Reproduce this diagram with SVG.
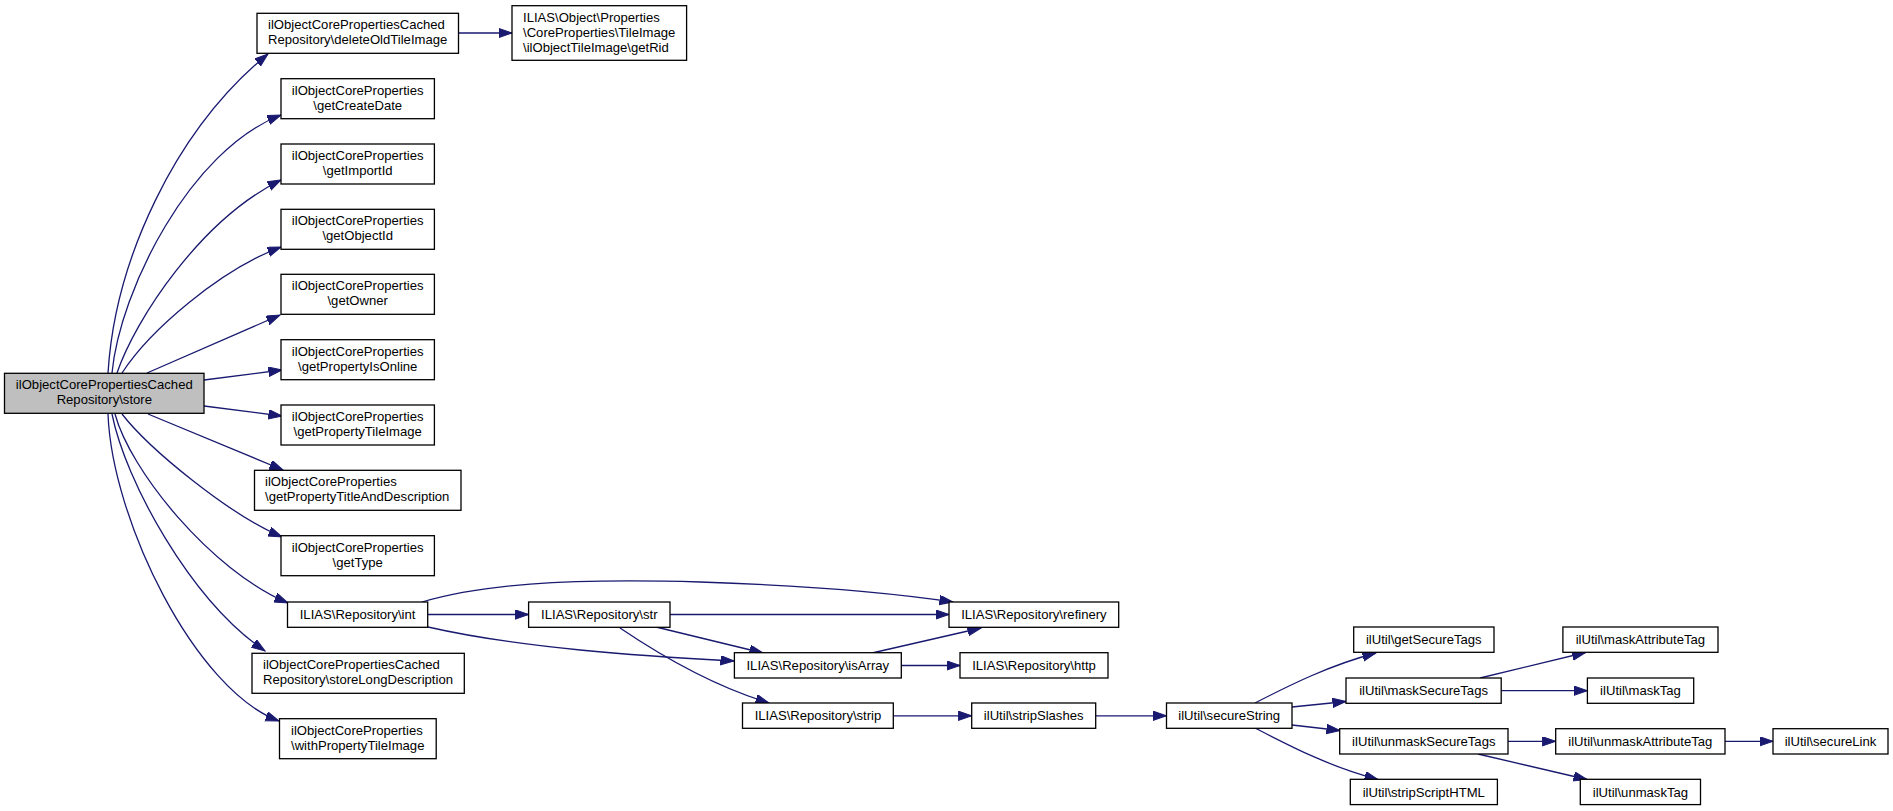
<svg xmlns="http://www.w3.org/2000/svg" width="1893" height="811" viewBox="0 0 1893 811">
<style>
.n rect{fill:#ffffff;stroke:#000000;stroke-width:1.3}
.n.root rect{fill:#bfbfbf}
.n text{font-family:"Liberation Sans",Arial,sans-serif;font-size:13.1px;fill:#000000}
.c{text-anchor:middle}
.e path{fill:none;stroke:#191970;stroke-width:1.3;marker-end:url(#arr)}
</style>
<defs>
<marker id="arr" markerWidth="15" markerHeight="11" refX="13.5" refY="4.7" orient="auto" markerUnits="userSpaceOnUse">
<path d="M0,0 L13.5,4.7 L0,9.4 z" fill="#191970" stroke="#191970" stroke-width="1"/>
</marker>
</defs>
<rect width="1893" height="811" fill="#ffffff"/>
<g id="edges" class="e">
<path d="M108,373 C115,260 175,130 268,54"/>
<path d="M112,373 C120,290 190,150 281,115"/>
<path d="M117,373 C135,320 200,220 281,180"/>
<path d="M122,373 C150,330 220,270 281,247"/>
<path d="M147,373 L280,315"/>
<path d="M204,380 L282,370"/>
<path d="M204,406 L282,416"/>
<path d="M148,414 L283,470"/>
<path d="M122,414 C150,450 230,515 282,537"/>
<path d="M115,414 C130,470 210,570 288,603"/>
<path d="M112,414 C125,480 190,600 265,651"/>
<path d="M108,414 C112,520 195,690 279,721"/>
<path d="M458.5,33 L512,33"/>
<path d="M422,602 C480,585 560,578 700,582 C820,586 900,594 953,602"/>
<path d="M428,614.5 L528.6,614.5"/>
<path d="M428,627 C520,648 640,656 734,661"/>
<path d="M670,614.5 L949,614.5"/>
<path d="M656,627 L763,653"/>
<path d="M620,628 C660,655 710,685 769,703"/>
<path d="M872,653 L981,628"/>
<path d="M901,665.5 L960,665.5"/>
<path d="M893,715.8 L971.7,715.8"/>
<path d="M1096,715.8 L1166.5,715.8"/>
<path d="M1255,703 C1290,685 1330,665 1376,653"/>
<path d="M1292,707 L1346,701.5"/>
<path d="M1292,725 L1340,730.5"/>
<path d="M1255,728 C1290,746 1330,767 1378,779.5"/>
<path d="M1480,678 L1585.5,652.5"/>
<path d="M1501,690.7 L1587.4,690.7"/>
<path d="M1508,741.3 L1555.7,741.3"/>
<path d="M1478,754 L1587,779.5"/>
<path d="M1725,741.3 L1773,741.3"/>
</g>
<g id="store" class="n root"><rect x="4.5" y="373.3" width="199.5" height="40"/><text class="c" x="104.3" y="389.3">ilObjectCorePropertiesCached</text><text class="c" x="104.3" y="404.3">Repository\store</text></g>
<g id="deleteOldTileImage" class="n"><rect x="257" y="13.3" width="201.5" height="40"/><text x="268" y="29.3">ilObjectCorePropertiesCached</text><text x="268" y="44.3">Repository\deleteOldTileImage</text></g>
<g id="getRid" class="n"><rect x="512" y="5.7" width="174.6" height="54.6"/><text x="523" y="21.5">ILIAS\Object\Properties</text><text x="523" y="36.5">\CoreProperties\TileImage</text><text x="523" y="51.5">\ilObjectTileImage\getRid</text></g>
<g id="getCreateDate" class="n"><rect x="281" y="78.7" width="153.4" height="40"/><text class="c" x="357.7" y="94.7">ilObjectCoreProperties</text><text class="c" x="357.7" y="109.7">\getCreateDate</text></g>
<g id="getImportId" class="n"><rect x="281" y="144" width="153.4" height="40"/><text class="c" x="357.7" y="160">ilObjectCoreProperties</text><text class="c" x="357.7" y="175">\getImportId</text></g>
<g id="getObjectId" class="n"><rect x="281" y="209.3" width="153.4" height="40"/><text class="c" x="357.7" y="225.3">ilObjectCoreProperties</text><text class="c" x="357.7" y="240.3">\getObjectId</text></g>
<g id="getOwner" class="n"><rect x="281" y="274.3" width="153.4" height="40"/><text class="c" x="357.7" y="290.3">ilObjectCoreProperties</text><text class="c" x="357.7" y="305.3">\getOwner</text></g>
<g id="getPropertyIsOnline" class="n"><rect x="281" y="339.7" width="153.4" height="40"/><text class="c" x="357.7" y="355.7">ilObjectCoreProperties</text><text class="c" x="357.7" y="370.7">\getPropertyIsOnline</text></g>
<g id="getPropertyTileImage" class="n"><rect x="281" y="405" width="153.4" height="40"/><text class="c" x="357.7" y="421">ilObjectCoreProperties</text><text class="c" x="357.7" y="436">\getPropertyTileImage</text></g>
<g id="getPropertyTitleAndDescription" class="n"><rect x="254.5" y="470.3" width="206.5" height="40"/><text x="265" y="486.3">ilObjectCoreProperties</text><text x="265" y="501.3">\getPropertyTitleAndDescription</text></g>
<g id="getType" class="n"><rect x="281" y="535.7" width="153.4" height="40"/><text class="c" x="357.7" y="551.7">ilObjectCoreProperties</text><text class="c" x="357.7" y="566.7">\getType</text></g>
<g id="int" class="n"><rect x="287.5" y="602" width="140.2" height="25.3"/><text class="c" x="357.6" y="619.3">ILIAS\Repository\int</text></g>
<g id="storeLongDescription" class="n"><rect x="252" y="653.3" width="212.3" height="40"/><text x="263" y="669.3">ilObjectCorePropertiesCached</text><text x="263" y="684.3">Repository\storeLongDescription</text></g>
<g id="withPropertyTileImage" class="n"><rect x="279.5" y="718.7" width="156.7" height="40"/><text x="291" y="734.7">ilObjectCoreProperties</text><text x="291" y="749.7">\withPropertyTileImage</text></g>
<g id="str" class="n"><rect x="528.6" y="602" width="141.4" height="25.3"/><text class="c" x="599.3" y="619.3">ILIAS\Repository\str</text></g>
<g id="refinery" class="n"><rect x="949" y="602" width="169.7" height="25.3"/><text class="c" x="1033.9" y="619.3">ILIAS\Repository\refinery</text></g>
<g id="isArray" class="n"><rect x="734.4" y="652.7" width="166.9" height="25.3"/><text class="c" x="817.8" y="670">ILIAS\Repository\isArray</text></g>
<g id="http" class="n"><rect x="960" y="652.7" width="148" height="25.3"/><text class="c" x="1034" y="670">ILIAS\Repository\http</text></g>
<g id="strip" class="n"><rect x="742.5" y="703" width="150.8" height="25.3"/><text class="c" x="818" y="720.3">ILIAS\Repository\strip</text></g>
<g id="stripSlashes" class="n"><rect x="971.7" y="703" width="124" height="25.3"/><text class="c" x="1033.7" y="720.3">ilUtil\stripSlashes</text></g>
<g id="secureString" class="n"><rect x="1166.5" y="703" width="125.5" height="25.3"/><text class="c" x="1229.2" y="720.3">ilUtil\secureString</text></g>
<g id="getSecureTags" class="n"><rect x="1353.7" y="627" width="140.3" height="25.3"/><text class="c" x="1423.8" y="644.3">ilUtil\getSecureTags</text></g>
<g id="maskSecureTags" class="n"><rect x="1346" y="678" width="155.2" height="25.3"/><text class="c" x="1423.6" y="695.3">ilUtil\maskSecureTags</text></g>
<g id="unmaskSecureTags" class="n"><rect x="1339.7" y="728.7" width="168.3" height="25.3"/><text class="c" x="1423.8" y="746">ilUtil\unmaskSecureTags</text></g>
<g id="stripScriptHTML" class="n"><rect x="1350.3" y="779.3" width="147.1" height="25.3"/><text class="c" x="1423.8" y="796.6">ilUtil\stripScriptHTML</text></g>
<g id="maskAttributeTag" class="n"><rect x="1562.9" y="627" width="155.1" height="25.3"/><text class="c" x="1640.4" y="644.3">ilUtil\maskAttributeTag</text></g>
<g id="maskTag" class="n"><rect x="1587.4" y="678" width="106.3" height="25.3"/><text class="c" x="1640.5" y="695.3">ilUtil\maskTag</text></g>
<g id="unmaskAttributeTag" class="n"><rect x="1555.7" y="728.7" width="169.3" height="25.3"/><text class="c" x="1640.3" y="746">ilUtil\unmaskAttributeTag</text></g>
<g id="unmaskTag" class="n"><rect x="1580.3" y="779.3" width="120.2" height="25.3"/><text class="c" x="1640.4" y="796.6">ilUtil\unmaskTag</text></g>
<g id="secureLink" class="n"><rect x="1773" y="728.7" width="115" height="25.3"/><text class="c" x="1830.5" y="746">ilUtil\secureLink</text></g>
</svg>
